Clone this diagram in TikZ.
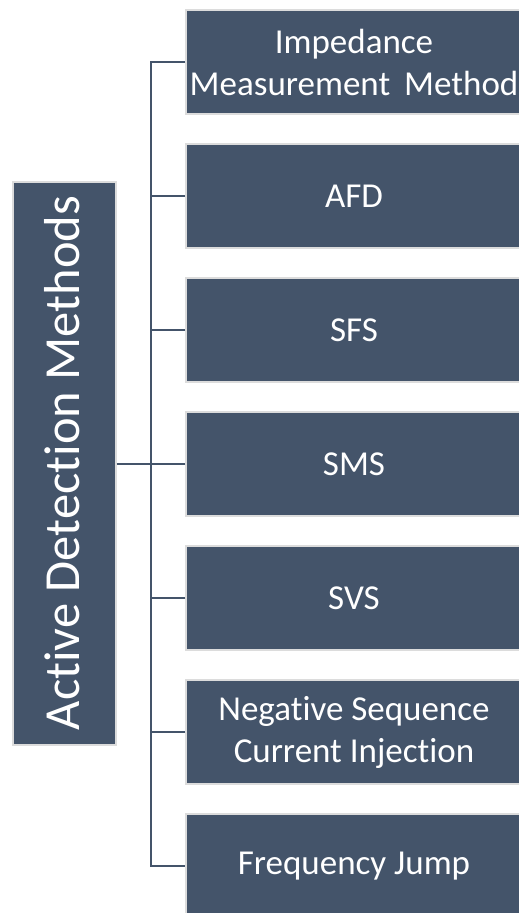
\documentclass[tikz,border=0pt]{standalone}
\usepackage{fontspec}
\setmainfont[Ligatures=NoCommon]{Carlito}
\definecolor{slate}{HTML}{44546A}
\definecolor{rim}{HTML}{DCDCDC}
\tikzset{
  catbox/.style={rectangle, fill=slate, draw=rim, line width=1.2pt,
    inner sep=0pt, minimum width=336pt, minimum height=104pt,
    text=white, align=center, font=\fontsize{35}{42}\selectfont},
  rootbox/.style={rectangle, fill=slate, draw=rim, line width=1.2pt,
    inner sep=0pt, minimum width=103pt, minimum height=563pt},
  roottext/.style={rotate=90, text=white, inner sep=0pt,
    font=\fontsize{50.5}{60}\selectfont},
  conn/.style={draw=slate, line width=2pt}
}
\begin{document}
\begin{tikzpicture}[x=1pt, y=-1pt]
  \useasboundingbox (0,0) rectangle (519,913);
  \fill[white] (0,0) rectangle (519,913);

  % root category
  \node[rootbox] (root) at (64.5,463.5) {};
  \node[roottext] (rootlabel) at (62.5,463) {Active Detection Methods};

  % method boxes
  \node[catbox] (b1) at (354,62)  {Impedance\\Measurement\hspace{0.4em}Method};
  \node[catbox] (b2) at (354,196) {AFD};
  \node[catbox] (b3) at (354,330) {SFS};
  \node[catbox] (b4) at (354,464) {SMS};
  \node[catbox] (b5) at (354,598) {SVS};
  \node[catbox] (b6) at (354,732) {Negative Sequence\\Current Injection};
  \node[catbox] (b7) at (354,866) {Frequency Jump};

  % trunk of the tree
  \coordinate (trunkTop) at (151,62);
  \coordinate (trunkBot) at (151,866);
  \draw[conn] (b1.west) -- (trunkTop) -- (trunkBot) -- (b7.west);
  \draw[conn] (root.east) -- (root.east -| trunkTop);
  \foreach \b in {b2,b3,b4,b5,b6}
    \draw[conn] (\b.west) -- (\b.west -| trunkTop);
\end{tikzpicture}
\end{document}
